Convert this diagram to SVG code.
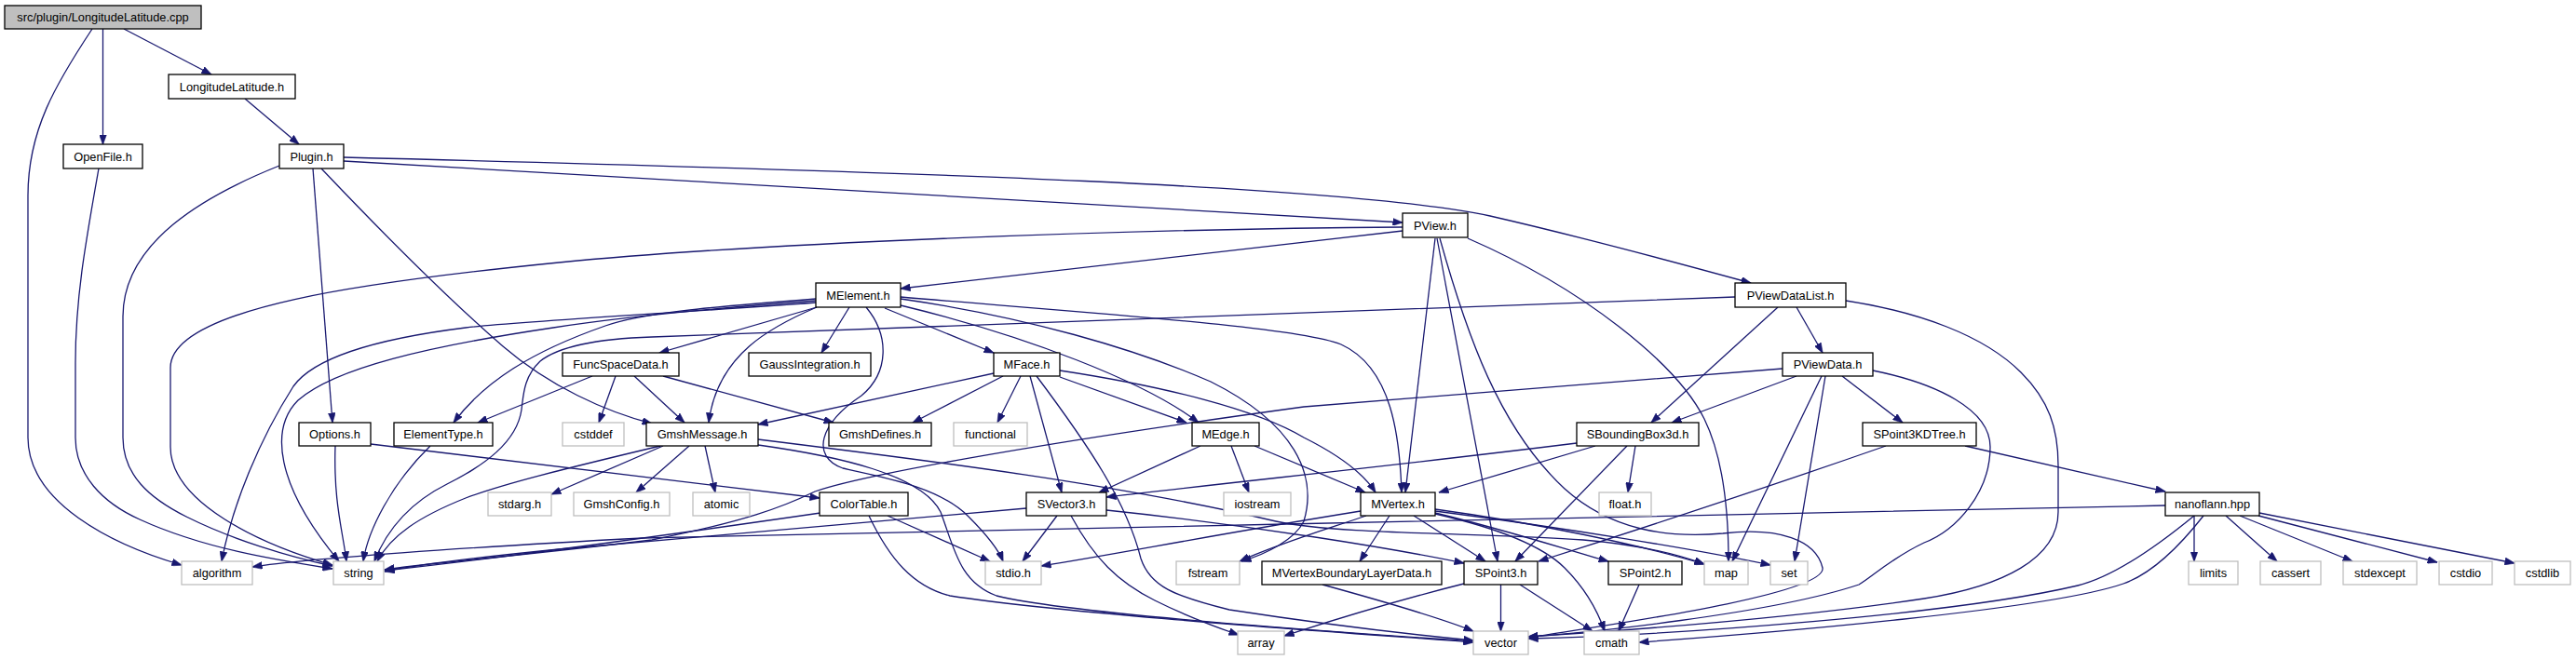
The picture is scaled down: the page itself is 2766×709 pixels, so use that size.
<svg xmlns="http://www.w3.org/2000/svg" width="2766" height="709" viewBox="0 0 2766 709">
<defs>
<marker id="arr" markerUnits="userSpaceOnUse" markerWidth="11" markerHeight="8" viewBox="0 0 11 8" refX="10.5" refY="4" orient="auto">
<path d="M0,0 L11,4 L0,8 z" fill="#191970" stroke="#191970" stroke-width="0.5"/>
</marker>
<style>
.n{fill:#fff;stroke:#000;stroke-width:1.3}
.g{fill:#fff;stroke:#bfbfbf;stroke-width:1.3}
.r{fill:#bfbfbf;stroke:#000;stroke-width:1.3}
text{font-family:"Liberation Sans",Arial,sans-serif;font-size:12.8px;fill:#000;text-anchor:middle}
#edges path{fill:none;stroke:#191970;stroke-width:1.3;marker-end:url(#arr)}
</style>
</defs>
<rect width="2766" height="709" fill="#fff"/>
<g id="edges">
<path d="M133,31 L227,80"/>
<path d="M110.5,31 L110.5,155"/>
<path d="M99,31 C60,90 30,140 30,210 L30,470 C30,540 120,585 195,607"/>
<path d="M106,181 C92,260 81,320 81,390 L81,470 C81,510 110,540 150,558 C220,590 300,602 357,611"/>
<path d="M300,178 C220,210 132,260 132,340 L132,470 C132,510 160,535 200,555 C250,580 310,598 357,608"/>
<path d="M263,106 L321,155"/>
<path d="M336,181 C345,300 352,380 357,454"/>
<path d="M345,181 C420,260 480,320 540,372 C590,415 650,442 700,455"/>
<path d="M369,173 L1506,239"/>
<path d="M369,169 C1000,185 1450,200 1600,232 C1700,255 1800,282 1880,304"/>
<path d="M1506,248 L967,310"/>
<path d="M1506,244 C1200,246 800,262 600,282 C400,302 183,330 183,395 L183,480 C183,540 280,585 357,607"/>
<path d="M1576,256 C1700,310 1800,390 1830,450 C1852,495 1856,560 1856,603"/>
<path d="M1541,256 L1509,529"/>
<path d="M1543,256 L1608,603"/>
<path d="M1546,256 C1575,360 1610,460 1680,525 C1730,570 1790,578 1850,573 C1910,566 1950,580 1957,610 C1962,640 1700,675 1641,685"/>
<path d="M1863,319 L700,362 C640,364 600,372 580,388 C562,405 562,425 560,440 C555,475 520,500 480,520 C440,540 415,570 402,603"/>
<path d="M1929,330 L1957,379"/>
<path d="M1909,330 L1773,454"/>
<path d="M1982,323 C2060,335 2130,360 2170,400 C2200,430 2210,460 2210,500 L2210,550 C2210,600 2150,630 2066,643 C1900,668 1700,680 1641,684"/>
<path d="M1929,404 L1795,454"/>
<path d="M1956,404 L1860,603"/>
<path d="M1960,404 L1927,603"/>
<path d="M1978,404 L2043,454"/>
<path d="M1914,396 L1400,437 C1100,478 920,512 875,528 C840,545 800,560 700,580 C550,598 450,606 413,612"/>
<path d="M2011,398 C2080,412 2137,440 2137,480 C2137,530 2100,570 2066,583 C2030,600 2010,620 1996,628 C1900,660 1700,680 1641,684"/>
<path d="M2110,479 L2325,528"/>
<path d="M2025,479 Q1850,540 1652,603"/>
<path d="M2356,554 L2356,603"/>
<path d="M2390,554 L2445,603"/>
<path d="M2405,554 L2526,603"/>
<path d="M2425,554 L2617,604"/>
<path d="M2426,551 L2700,605"/>
<path d="M2356,554 C2300,600 2260,622 2231,629 C2100,660 1800,682 1641,686"/>
<path d="M2366,554 C2330,600 2300,620 2280,627 C2200,655 1900,680 1760,690"/>
<path d="M2325,543 L1380,563 L690,578 C500,588 330,600 271,609"/>
<path d="M360,479 C358,540 368,570 372,603"/>
<path d="M398,477 L880,535"/>
<path d="M462,479 C420,520 395,570 390,603"/>
<path d="M876,321 C760,330 690,336 650,350 C570,378 520,410 487,454"/>
<path d="M876,323 C740,333 640,345 594,352 C460,372 360,395 320,430 C290,460 295,520 364,603"/>
<path d="M876,325 C700,338 560,345 500,352 C420,362 340,380 315,415 C280,470 250,540 238,603"/>
<path d="M877,330 L708,379"/>
<path d="M877,330 C830,350 770,380 761,454"/>
<path d="M912,330 L882,379"/>
<path d="M930,330 C955,360 955,400 925,425 C880,455 870,490 905,503 C960,515 1010,525 1040,555 C1060,575 1072,590 1077,603"/>
<path d="M950,331 L1067,379"/>
<path d="M967,328 C1100,360 1230,410 1287,454"/>
<path d="M967,319 C1150,335 1390,350 1440,370 C1495,395 1503,470 1505,529"/>
<path d="M967,321 C1100,340 1220,375 1300,410 C1390,455 1415,510 1400,560 C1390,580 1360,595 1333,603"/>
<path d="M636,404 L513,454"/>
<path d="M661,404 L643,454"/>
<path d="M681,404 L735,454"/>
<path d="M712,404 L895,454"/>
<path d="M709,479 C600,505 540,520 500,535 C450,555 420,575 405,603"/>
<path d="M712,479 L592,531"/>
<path d="M740,479 L683,529"/>
<path d="M757,479 L768,529"/>
<path d="M814,472 C1000,495 1200,520 1370,560 C1440,575 1600,572 1700,580 C1760,585 1800,595 1830,606"/>
<path d="M814,478 C900,490 990,510 1010,550 C1025,590 1030,625 1070,640 C1150,660 1450,680 1582,689"/>
<path d="M953,554 L1063,603"/>
<path d="M933,554 C955,600 980,630 1020,640 C1150,660 1450,680 1582,690"/>
<path d="M881,551 C750,570 550,598 413,613"/>
<path d="M1067,401 L814,456"/>
<path d="M1077,404 L980,454"/>
<path d="M1096,404 L1071,454"/>
<path d="M1106,404 L1140,529"/>
<path d="M1113,404 C1170,480 1210,540 1225,600 C1235,630 1260,640 1320,655 C1450,675 1530,683 1582,688"/>
<path d="M1138,405 L1274,454"/>
<path d="M1138,398 C1250,415 1350,440 1400,470 C1440,490 1465,510 1477,529"/>
<path d="M1289,479 L1180,529"/>
<path d="M1322,479 L1341,529"/>
<path d="M1347,479 L1466,529"/>
<path d="M1135,554 L1098,603"/>
<path d="M1150,554 C1175,600 1200,625 1240,645 C1280,665 1310,675 1330,682"/>
<path d="M1102,546 C900,563 700,580 600,590 C500,600 440,608 413,614"/>
<path d="M1188,548 C1350,565 1500,590 1572,605"/>
<path d="M1492,554 L1460,603"/>
<path d="M1518,554 L1595,603"/>
<path d="M1541,551 C1620,570 1680,590 1727,603"/>
<path d="M1541,547 C1650,562 1760,585 1830,606"/>
<path d="M1541,549 C1680,567 1820,590 1901,607"/>
<path d="M1541,552 C1620,570 1660,590 1680,610 C1700,630 1715,655 1723,678"/>
<path d="M1461,549 C1300,575 1200,595 1118,608"/>
<path d="M1467,554 C1420,570 1370,585 1331,603"/>
<path d="M1693,476 C1500,500 1350,515 1188,534"/>
<path d="M1713,479 L1545,529"/>
<path d="M1747,479 L1627,603"/>
<path d="M1756,479 L1748,529"/>
<path d="M1611.5,628 L1611.5,678"/>
<path d="M1632,628 L1710,678"/>
<path d="M1572,627 C1480,650 1420,670 1379,683"/>
<path d="M1760,628 L1738,678"/>
<path d="M1420,628 C1500,650 1550,665 1582,678"/>
</g>
<g id="n_src"><rect class="r" x="5" y="6" width="211" height="25"/><text x="110.5" y="23">src/plugin/LongitudeLatitude.cpp</text></g>
<g id="n_llh"><rect class="n" x="181" y="80" width="136" height="26"/><text x="249" y="97.5">LongitudeLatitude.h</text></g>
<g id="n_openfile"><rect class="n" x="68" y="155" width="85" height="26"/><text x="110.5" y="172.5">OpenFile.h</text></g>
<g id="n_plugin"><rect class="n" x="300" y="155" width="69" height="26"/><text x="334.5" y="172.5">Plugin.h</text></g>
<g id="n_pview"><rect class="n" x="1506" y="229" width="70" height="26"/><text x="1541" y="246.5">PView.h</text></g>
<g id="n_melement"><rect class="n" x="876" y="304" width="91" height="26"/><text x="921.5" y="321.5">MElement.h</text></g>
<g id="n_pvdl"><rect class="n" x="1863" y="304" width="119" height="26"/><text x="1922.5" y="321.5">PViewDataList.h</text></g>
<g id="n_funcspace"><rect class="n" x="604" y="379" width="125" height="25"/><text x="666.5" y="396">FuncSpaceData.h</text></g>
<g id="n_gauss"><rect class="n" x="804" y="379" width="131" height="25"/><text x="869.5" y="396">GaussIntegration.h</text></g>
<g id="n_mface"><rect class="n" x="1067" y="379" width="71" height="25"/><text x="1102.5" y="396">MFace.h</text></g>
<g id="n_pvdata"><rect class="n" x="1914" y="379" width="97" height="25"/><text x="1962.5" y="396">PViewData.h</text></g>
<g id="n_options"><rect class="n" x="321" y="454" width="77" height="25"/><text x="359.5" y="471">Options.h</text></g>
<g id="n_eltype"><rect class="n" x="423" y="454" width="106" height="25"/><text x="476" y="471">ElementType.h</text></g>
<g id="n_cstddef"><rect class="g" x="604" y="454" width="66" height="25"/><text x="637" y="471">cstddef</text></g>
<g id="n_gmshmsg"><rect class="n" x="694" y="454" width="120" height="25"/><text x="754" y="471">GmshMessage.h</text></g>
<g id="n_gmshdef"><rect class="n" x="890" y="454" width="110" height="25"/><text x="945" y="471">GmshDefines.h</text></g>
<g id="n_functional"><rect class="g" x="1024" y="454" width="79" height="25"/><text x="1063.5" y="471">functional</text></g>
<g id="n_medge"><rect class="n" x="1280" y="454" width="72" height="25"/><text x="1316" y="471">MEdge.h</text></g>
<g id="n_sbbox"><rect class="n" x="1693" y="454" width="131" height="25"/><text x="1758.5" y="471">SBoundingBox3d.h</text></g>
<g id="n_kdtree"><rect class="n" x="2000" y="454" width="122" height="25"/><text x="2061" y="471">SPoint3KDTree.h</text></g>
<g id="n_stdarg"><rect class="g" x="524" y="529" width="68" height="25"/><text x="558" y="546">stdarg.h</text></g>
<g id="n_gmshconfig"><rect class="g" x="616" y="529" width="103" height="25"/><text x="667.5" y="546">GmshConfig.h</text></g>
<g id="n_atomic"><rect class="g" x="744" y="529" width="61" height="25"/><text x="774.5" y="546">atomic</text></g>
<g id="n_colortable"><rect class="n" x="880" y="529" width="95" height="25"/><text x="927.5" y="546">ColorTable.h</text></g>
<g id="n_svector3"><rect class="n" x="1102" y="529" width="86" height="25"/><text x="1145" y="546">SVector3.h</text></g>
<g id="n_iostream"><rect class="g" x="1314" y="529" width="72" height="25"/><text x="1350" y="546">iostream</text></g>
<g id="n_mvertex"><rect class="n" x="1461" y="529" width="80" height="25"/><text x="1501" y="546">MVertex.h</text></g>
<g id="n_floath"><rect class="g" x="1717" y="529" width="56" height="25"/><text x="1745" y="546">float.h</text></g>
<g id="n_nanoflann"><rect class="n" x="2325" y="529" width="101" height="25"/><text x="2375.5" y="546">nanoflann.hpp</text></g>
<g id="n_algorithm"><rect class="g" x="195" y="603" width="76" height="25"/><text x="233" y="620">algorithm</text></g>
<g id="n_string"><rect class="g" x="358" y="603" width="54" height="25"/><text x="385" y="620">string</text></g>
<g id="n_stdio"><rect class="g" x="1058" y="603" width="60" height="25"/><text x="1088" y="620">stdio.h</text></g>
<g id="n_fstream"><rect class="g" x="1263" y="603" width="68" height="25"/><text x="1297" y="620">fstream</text></g>
<g id="n_mvbld"><rect class="n" x="1355" y="603" width="193" height="25"/><text x="1451.5" y="620">MVertexBoundaryLayerData.h</text></g>
<g id="n_spoint3"><rect class="n" x="1572" y="603" width="79" height="25"/><text x="1611.5" y="620">SPoint3.h</text></g>
<g id="n_spoint2"><rect class="n" x="1727" y="603" width="79" height="25"/><text x="1766.5" y="620">SPoint2.h</text></g>
<g id="n_map"><rect class="g" x="1830" y="603" width="47" height="25"/><text x="1853.5" y="620">map</text></g>
<g id="n_set"><rect class="g" x="1901" y="603" width="40" height="25"/><text x="1921" y="620">set</text></g>
<g id="n_limits"><rect class="g" x="2350" y="603" width="53" height="25"/><text x="2376.5" y="620">limits</text></g>
<g id="n_cassert"><rect class="g" x="2427" y="603" width="65" height="25"/><text x="2459.5" y="620">cassert</text></g>
<g id="n_stdexcept"><rect class="g" x="2516" y="603" width="79" height="25"/><text x="2555.5" y="620">stdexcept</text></g>
<g id="n_cstdio"><rect class="g" x="2619" y="603" width="57" height="25"/><text x="2647.5" y="620">cstdio</text></g>
<g id="n_cstdlib"><rect class="g" x="2700" y="603" width="60" height="25"/><text x="2730" y="620">cstdlib</text></g>
<g id="n_array"><rect class="g" x="1329" y="678" width="50" height="25"/><text x="1354" y="695">array</text></g>
<g id="n_vector"><rect class="g" x="1582" y="678" width="59" height="25"/><text x="1611.5" y="695">vector</text></g>
<g id="n_cmath"><rect class="g" x="1701" y="678" width="59" height="25"/><text x="1730.5" y="695">cmath</text></g>
</svg>
